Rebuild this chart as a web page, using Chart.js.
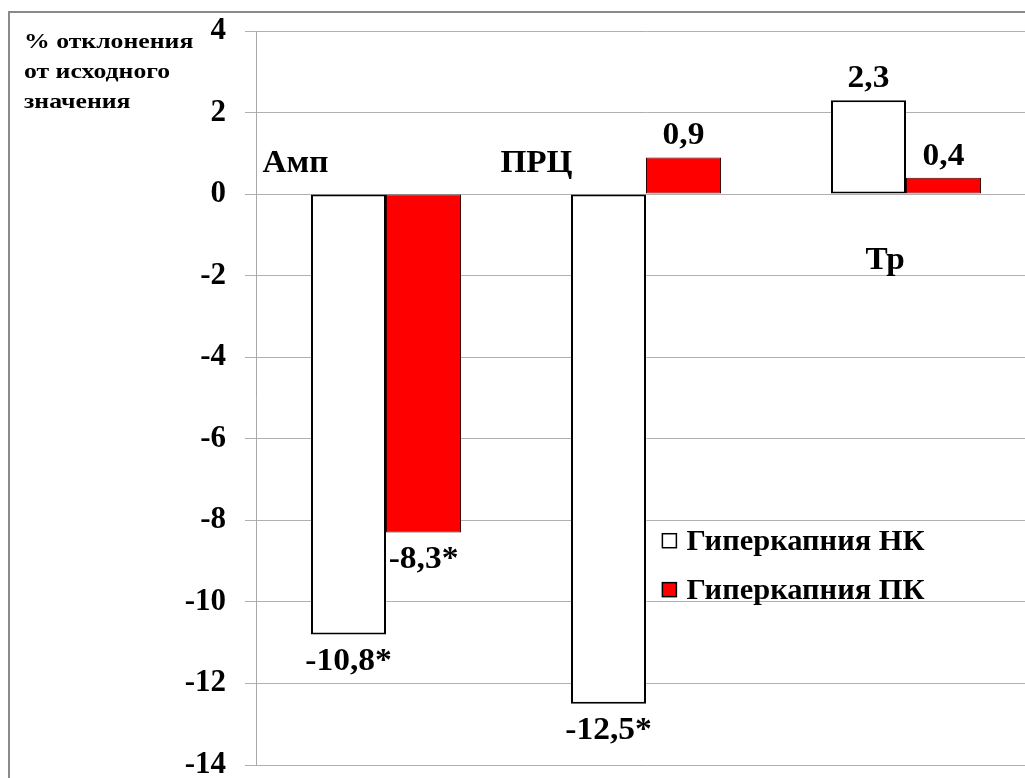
<!DOCTYPE html>
<html lang="ru">
<head>
<meta charset="utf-8">
<title>Гиперкапния</title>
<script src="https://cdn.jsdelivr.net/npm/chart.js@4.4.1/dist/chart.umd.min.js"></script>
<style>
    html, body {
        margin: 0;
        padding: 0;
        background: #ffffff;
        overflow: hidden;
    }
    .frame {
        position: absolute;
        left: 8px;
        top: 11px;
        width: 1100px;
        height: 900px;
        border-left: 2px solid #8a8a8a;
        border-top: 2px solid #8a8a8a;
    }
    .wrap {
        position: absolute;
        left: 0;
        top: 0;
        width: 1060px;
        height: 778px;
    }
</style>
</head>
<body>
<div class="frame"></div>
<div class="wrap">
    <canvas id="hyperChart" width="1060" height="778"></canvas>
</div>
<script>
// Data
const categories = ['Амп', 'ПРЦ', 'Тр'];
const seriesNames = ['Гиперкапния НК', 'Гиперкапния ПК'];
const valuesNK = [-10.8, -12.5, 2.3];
const valuesPK = [-8.3, 0.9, 0.4];
const significantNK = [true, true, false];
const significantPK = [true, false, false];
const yTicks = [4, 2, 0, -2, -4, -6, -8, -10, -12, -14];
const yTitleLines = ['% отклонения', 'от исходного', 'значения'];

const SERIF = '"Liberation Serif", "Times New Roman", serif';

// Turns a value into the label text, e.g. -10.8 -> "-10,8*"
function formatValue(v, sig) {
    return v.toFixed(1).replace('.', ',') + (sig ? '*' : '');
}

// draws text squeezed/stretched horizontally around its anchor
function wideText(ctx, text, x, y, sx) {
    ctx.save();
    ctx.translate(x, y);
    ctx.scale(sx, 1);
    ctx.fillText(text, 0, 0);
    ctx.restore();
}

const annotationsPlugin = {
    id: 'annotations',
    afterDatasetsDraw(chart) {
        const ctx = chart.ctx;
        const x = chart.scales.x;
        const y = chart.scales.y;
        const step = x.getPixelForValue(1) - x.getPixelForValue(0);
        const xAt = pos => x.getPixelForValue(0) + pos * step;

        ctx.save();
        ctx.fillStyle = '#000000';
        ctx.textBaseline = 'alphabetic';

        // axis title, top left
        ctx.font = 'bold 22px ' + SERIF;
        ctx.textAlign = 'left';
        yTitleLines.forEach((line, i) => {
            wideText(ctx, line, 24, 48 + i * 30, 1.17);
        });

        // category names placed as free text
        const catSpots = [
            { pos: -0.475, val: 0.54 },
            { pos: 0.44, val: 0.53 },
            { pos: 1.844, val: -1.84 }
        ];
        ctx.font = 'bold 32px ' + SERIF;
        categories.forEach((name, i) => {
            wideText(ctx, name, xAt(catSpots[i].pos), y.getPixelForValue(catSpots[i].val), 1.04);
        });

        // value labels at the end of each bar
        const sigs = [significantNK, significantPK];
        ctx.font = 'bold 31px ' + SERIF;
        ctx.textAlign = 'center';
        chart.data.datasets.forEach((ds, di) => {
            const meta = chart.getDatasetMeta(di);
            meta.data.forEach((bar, i) => {
                const v = ds.data[i];
                const ty = v >= 0 ? bar.y - 13 : bar.y + 35;
                wideText(ctx, formatValue(v, sigs[di][i]), bar.x, ty, 1.08);
            });
        });

        // legend inside the plot
        const lx = xAt(1.063);
        ctx.font = 'bold 29px ' + SERIF;
        ctx.textAlign = 'left';
        ctx.textBaseline = 'middle';
        chart.data.datasets.forEach((ds, di) => {
            const cy = y.getPixelForValue(-8.5 - di * 1.2);
            ctx.fillStyle = ds.backgroundColor;
            ctx.fillRect(lx, cy - 7, 14, 14);
            ctx.lineWidth = 1.5;
            ctx.strokeStyle = '#000000';
            ctx.strokeRect(lx, cy - 7, 14, 14);
            ctx.fillStyle = '#000000';
            wideText(ctx, ds.label, lx + 24, cy + 2, 1.05);
        });

        ctx.restore();
    }
};

const chart = new Chart(document.getElementById('hyperChart'), {
    type: 'bar',
    data: {
        labels: categories,
        datasets: [
            {
                label: seriesNames[0],
                data: valuesNK,
                backgroundColor: '#ffffff',
                borderColor: '#000000',
                borderWidth: 2,
                borderSkipped: false,
                barPercentage: 1,
                categoryPercentage: 0.577
            },
            {
                label: seriesNames[1],
                data: valuesPK,
                backgroundColor: '#ff0000',
                borderColor: '#3a0000',
                borderWidth: 1,
                borderSkipped: false,
                barPercentage: 1,
                categoryPercentage: 0.577
            }
        ]
    },
    options: {
        responsive: false,
        animation: false,
        layout: {
            padding: { left: 0, top: 31, right: 24, bottom: 13 }
        },
        plugins: {
            legend: { display: false },
            tooltip: { enabled: false }
        },
        scales: {
            x: {
                display: false
            },
            y: {
                min: -14,
                max: 4,
                afterFit(scale) {
                    scale.width = 256;
                    // keep the label padding from shrinking the plot vertically
                    scale.paddingTop = 0;
                    scale.paddingBottom = 0;
                },
                afterBuildTicks(scale) {
                    scale.ticks = yTicks.map(v => ({ value: v }));
                },
                grid: {
                    color: '#b0b0b0',
                    lineWidth: 1,
                    tickLength: 11,
                    drawTicks: true
                },
                border: {
                    color: '#a8a8a8',
                    width: 1
                },
                ticks: {
                    color: '#000000',
                    padding: 19,
                    font: { family: SERIF, size: 31, weight: 'bold' },
                    callback: v => String(v)
                }
            }
        }
    },
    plugins: [annotationsPlugin]
});
</script>
</body>
</html>
